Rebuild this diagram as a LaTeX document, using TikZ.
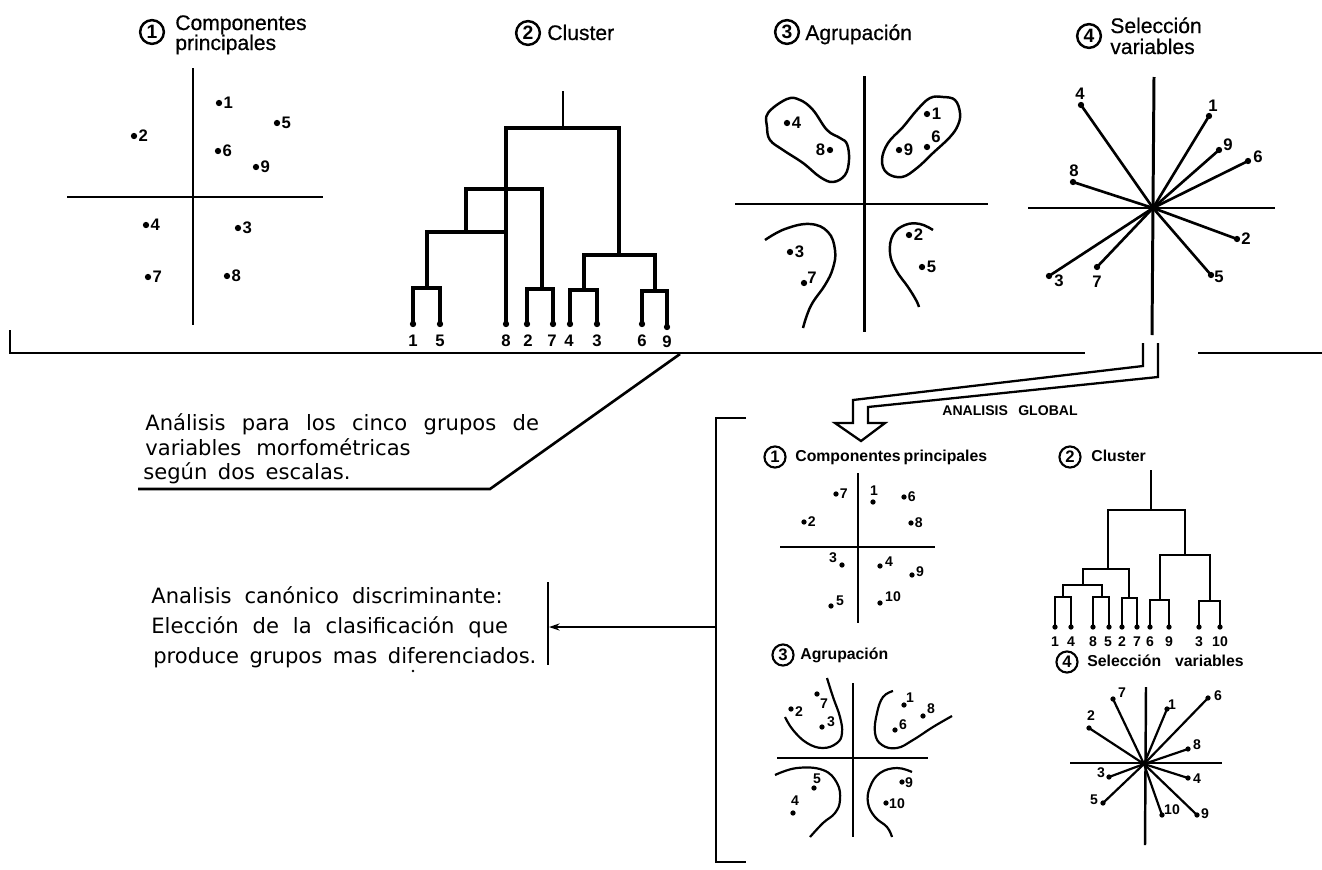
\documentclass[tikz,border=0pt]{standalone}
\usepackage{fontspec}
\setmainfont{Liberation Sans}
\newfontfamily\lett[FakeBold=0.6]{Liberation Sans}
\newfontfamily\lettw{DejaVu Sans}
\usetikzlibrary{arrows.meta}
\newcommand\pdot[2]{\fill (#1,#2) circle[radius=1.8pt];}
\newcommand\sdot[2]{\fill (#1,#2) circle[radius=1.5pt];}
\begin{document}
\begin{tikzpicture}[x=0.02cm,y=-0.02cm,
  ax/.style={line width=1.7pt},
  bax/.style={line width=1.4pt},
  dend/.style={line width=1.9pt},
  bdend/.style={line width=1.6pt},
  outl/.style={line width=1.4pt},
  boutl/.style={line width=1.25pt},
  ray/.style={line width=1.5pt},
  bray/.style={line width=1.25pt},
  mline/.style={line width=1.5pt},
  lab/.style={font=\fontsize{9.5}{9.5}\selectfont\bfseries, inner sep=0pt},
  slab/.style={font=\fontsize{8}{8}\selectfont\bfseries, inner sep=0pt},
  ttl/.style={font=\fontsize{12}{12}\selectfont\lett, inner sep=0pt, anchor=base west},
  bttl/.style={font=\fontsize{9}{9}\selectfont\bfseries, inner sep=0pt, anchor=base west},
  num/.style={circle, draw, line width=1.4pt, minimum size=13.5pt, inner sep=0pt, font=\fontsize{11}{11}\selectfont\bfseries},
  bnum/.style={circle, draw, line width=1.2pt, minimum size=12pt, inner sep=0pt, font=\fontsize{9.5}{9.5}\selectfont\bfseries},
  txt/.style={font=\fontsize{12}{12}\selectfont\lettw, inner sep=0pt, anchor=base west}
]
\useasboundingbox (0,0) rectangle (1322,869);

%% ---------------- Panel 1: Componentes principales
\node[num] (n1) at (152,32) {1};
\node[ttl] (t1a) at (175,30) {Componentes};
\node[ttl] (t1b) at (175,50) {principales};
\draw[ax] (193,68)--(193,325);
\draw[ax] (67,197)--(323,197);
\pdot{219}{103}\node[lab,right=2.5pt] (a1) at (219,103) {1};
\pdot{277}{123}\node[lab,right=2.5pt] (a5) at (277,123) {5};
\pdot{134}{136}\node[lab,right=2.5pt] (a2) at (134,136) {2};
\pdot{218}{151}\node[lab,right=2.5pt] (a6) at (218,151) {6};
\pdot{256}{167}\node[lab,right=2.5pt] (a9) at (256,167) {9};
\pdot{146}{225}\node[lab,right=2.5pt] (a4) at (146,225) {4};
\pdot{238}{228}\node[lab,right=2.5pt] (a3) at (238,228) {3};
\pdot{148}{277}\node[lab,right=2.5pt] (a7) at (148,277) {7};
\pdot{227}{276}\node[lab,right=2.5pt] (a8) at (227,276) {8};

%% ---------------- Panel 2: Cluster
\node[num] (n2) at (528,33) {2};
\node[ttl] (t2) at (547,40) {Cluster};
\draw[line width=1.1pt] (563,128)--(563,91);
\draw[dend] (413,324)--(413,288)--(440,288)--(440,324);
\draw[dend] (427,288)--(427,232)--(506,232);
\draw[dend] (506,324)--(506,128)--(619,128)--(619,255);
\draw[dend] (466,232)--(466,189)--(542,189)--(542,289);
\draw[dend] (527,324)--(527,289)--(553,289)--(553,324);
\draw[dend] (584,290)--(584,255)--(655,255)--(655,291);
\draw[dend] (570,324)--(570,290)--(597,290)--(597,324);
\draw[dend] (642,324)--(642,291)--(667,291)--(667,327);
\foreach \x in {413,440,506,527,553,570,597,642} {\pdot{\x}{324}}
\pdot{667}{327}
\node[lab] (c1) at (413,341) {1};
\node[lab] (c5) at (440,341) {5};
\node[lab] (c8) at (506,341) {8};
\node[lab] (c2) at (528,341) {2};
\node[lab] (c7) at (552,341) {7};
\node[lab] (c4) at (569,341) {4};
\node[lab] (c3) at (597,341) {3};
\node[lab] (c6) at (642,341) {6};
\node[lab] (c9) at (667,342) {9};

%% ---------------- Panel 3: Agrupacion
\node[num] (n3) at (787,32) {3};
\node[ttl] (t3) at (805,40) {Agrupación};
\draw[ax] (864,76)--(864,332);
\draw[ax] (735,204)--(988,204);
\draw[outl] plot[smooth cycle, tension=0.65] coordinates {(768,113) (787,99) (800,100) (813,110) (827,130) (840,138) (847,144) (849,160) (845,175) (833,182) (820,177) (803,163) (783,150) (770,140) (767,127)};
\draw[outl] plot[smooth cycle, tension=0.65] coordinates {(960,113) (955,100) (943,97) (930,98) (917,110) (903,127) (888,143) (882,160) (887,173) (902,177) (917,168) (933,153) (950,137) (958,125)};
\draw[outl] plot[smooth, tension=0.7] coordinates {(765,240) (785,229) (810,224) (828,232) (835,250) (833,268) (825,285) (813,302) (807,315) (803,328)};
\draw[outl] plot[smooth, tension=0.7] coordinates {(933,230) (920,224) (905,225) (893,235) (890,253) (896,270) (908,287) (916,300) (919,307)};
\pdot{787}{123}\node[lab,right=2.5pt] (g4) at (787,123) {4};
\pdot{830}{150}\node[lab,left=2.5pt] (g8) at (830,150) {8};
\pdot{927}{114}\node[lab,right=2.5pt] (g1) at (927,114) {1};
\pdot{927}{147}\node[lab] (g6) at (936,137) {6};
\pdot{899}{150}\node[lab,right=2.5pt] (g9) at (899,150) {9};
\pdot{790}{252}\node[lab,right=2.5pt] (g3) at (790,252) {3};
\pdot{804}{283}\node[lab] (g7) at (812,278) {7};
\pdot{909}{235}\node[lab,right=2.5pt] (g2) at (909,235) {2};
\pdot{922}{267}\node[lab,right=2.5pt] (g5) at (922,267) {5};

%% ---------------- Panel 4: Seleccion variables
\node[num] (n4) at (1089,36) {4};
\node[ttl] (t4a) at (1110,33) {Selección};
\node[ttl] (t4b) at (1110,54) {variables};
\draw[ax] (1154,77)--(1152,335);
\draw[ax] (1028,208)--(1275,208);
\coordinate (sc) at (1153,208);
\foreach \px/\py in {1081/105,1209/116,1219/150,1248/161,1073/182,1237/239,1211/275,1049/276,1097/267}
  {\draw[ray] (sc)--(\px,\py); \pdot{\px}{\py}}
\node[lab] (s4) at (1080,94) {4};
\node[lab] (s1) at (1213,106) {1};
\node[lab] (s9) at (1228,145) {9};
\node[lab] (s6) at (1258,157) {6};
\node[lab] (s8) at (1074,171) {8};
\node[lab] (s2) at (1246,239) {2};
\node[lab] (s5) at (1219,277) {5};
\node[lab] (s3) at (1059,281) {3};
\node[lab] (s7) at (1097,282) {7};

%% ---------------- connecting lines
\draw[mline] (10,330)--(10,353)--(1085,353);
\draw[mline] (1198,353)--(1322,353);
\draw[mline] (680,354)--(490,489)--(138,489);
\draw[line width=1.3pt, line join=miter] (1143,343)--(1143,366)--(853,400)--(853,423)--(835,423)--(861,441)--(885,423)--(868,423)--(868,407)--(1158,377)--(1158,343);

\node[txt] (l1) at (145,430) {\makebox[224pt][s]{Análisis para los cinco grupos de}};
\node[txt] (l2) at (145,455) {\makebox[151pt][s]{variables morfométricas}};
\node[txt] (l3) at (143,479) {\makebox[118pt][s]{según dos escalas.}};

\node[txt] (m1) at (151,603) {\makebox[200pt][s]{Analisis canónico discriminante:}};
\node[txt] (m2) at (151,633) {\makebox[203pt][s]{Elección de la clasificación que}};
\node[txt] (m3) at (153,663) {\makebox[218pt][s]{produce grupos mas diferenciados.}};
\fill (413,671) circle[radius=0.8pt];
\coordinate (bartop) at (548,582);
\coordinate (barbot) at (548,665);
\coordinate (barmid) at (549,627);
\coordinate (brkmid) at (716,627);
\draw[mline] (bartop)--(barbot);
\draw[mline,-{Stealth[length=6pt,width=4pt]}] (brkmid)--(barmid);
\draw[mline] (746,418)--(716,418)--(716,862)--(746,862);

\node[font=\fontsize{8}{8}\selectfont\bfseries, inner sep=0pt, anchor=base west] (glob) at (942,415) {\makebox[77pt][s]{ANALISIS GLOBAL}};

%% ---------------- Bottom panel 1
\node[bnum] (b1) at (775,457) {1};
\node[bttl] (bt1) at (795,461) {\makebox[104pt][s]{Componentes principales}};
\draw[bax] (858,473)--(858,623);
\draw[bax] (780,547)--(935,547);
\sdot{836}{494}\node[slab,right=2pt] (e7) at (836,494) {7};
\sdot{873}{502}\node[slab] (e1) at (874,491) {1};
\sdot{904}{497}\node[slab,right=2pt] (e6) at (904,497) {6};
\sdot{804}{522}\node[slab,right=2pt] (e2) at (804,522) {2};
\sdot{911}{523}\node[slab,right=2pt] (e8) at (911,523) {8};
\sdot{842}{565}\node[slab] (e3) at (833,558) {3};
\sdot{880}{566}\node[slab] (e4) at (889,562) {4};
\sdot{912}{575}\node[slab] (e9) at (920,572) {9};
\sdot{831}{606}\node[slab] (e5) at (840,601) {5};
\sdot{880}{603}\node[slab] (e10) at (893,597) {10};

%% ---------------- Bottom panel 2
\node[bnum] (b2) at (1070,457) {2};
\node[bttl] (bt2) at (1091,461) {Cluster};
\draw[line width=1pt] (1151,470)--(1151,510);
\draw[bdend] (1108,569)--(1108,510)--(1185,510)--(1185,555);
\draw[bdend] (1083,585)--(1083,569)--(1129,569)--(1129,598);
\draw[bdend] (1063,597)--(1063,585)--(1102,585)--(1102,597);
\draw[bdend] (1055,627)--(1055,597)--(1071,597)--(1071,627);
\draw[bdend] (1093,627)--(1093,597)--(1109,597)--(1109,627);
\draw[bdend] (1122,627)--(1122,598)--(1137,598)--(1137,627);
\draw[bdend] (1160,600)--(1160,555)--(1210,555)--(1210,601);
\draw[bdend] (1150,627)--(1150,600)--(1169,600)--(1169,627);
\draw[bdend] (1199,628)--(1199,601)--(1220,601)--(1220,628);
\foreach \x in {1055,1071,1093,1109,1122,1137,1150,1169,1199,1220} {\sdot{\x}{627}}
\node[slab] (d1) at (1055,642) {1};
\node[slab] (d4) at (1071,642) {4};
\node[slab] (d8) at (1093,642) {8};
\node[slab] (d5) at (1108,642) {5};
\node[slab] (d2) at (1122,642) {2};
\node[slab] (d7) at (1137,642) {7};
\node[slab] (d6) at (1150,642) {6};
\node[slab] (d9) at (1169,642) {9};
\node[slab] (d3) at (1199,642) {3};
\node[slab] (d10) at (1220,642) {10};

%% ---------------- Bottom panel 3
\node[bnum] (b3) at (783,655) {3};
\node[bttl] (bt3) at (800,659) {Agrupación};
\draw[bax] (853,683)--(853,837);
\draw[bax] (777,758)--(928,758);
\draw[boutl] plot[smooth, tension=0.7] coordinates {(827,678) (833,697) (840,717) (842,733) (837,743) (823,748) (807,743) (793,730) (785,717)};
\draw[boutl] plot[smooth, tension=0.7] coordinates {(893,691) (883,697) (877,713) (875,733) (882,745) (897,748) (913,740) (933,727) (952,716)};
\draw[boutl] plot[smooth, tension=0.7] coordinates {(775,775) (797,768) (823,770) (837,783) (840,800) (835,813) (823,823) (810,837)};
\draw[boutl] plot[smooth, tension=0.7] coordinates {(912,772) (897,768) (880,773) (870,787) (868,803) (875,817) (887,827) (892,837)};
\sdot{817}{694}\node[slab] (h7) at (824,704) {7};
\sdot{791}{709}\node[slab] (h2) at (799,712) {2};
\sdot{822}{727}\node[slab] (h3) at (831,722) {3};
\sdot{904}{705}\node[slab] (h1) at (910,698) {1};
\sdot{923}{716}\node[slab] (h8) at (931,709) {8};
\sdot{895}{730}\node[slab] (h6) at (903,725) {6};
\sdot{814}{788}\node[slab] (h5) at (817,779) {5};
\sdot{793}{813}\node[slab] (h4) at (795,801) {4};
\sdot{902}{782}\node[slab] (h9) at (909,783) {9};
\sdot{886}{803}\node[slab] (h10) at (897,804) {10};

%% ---------------- Bottom panel 4
\node[bnum] (b4) at (1067,662) {4};
\node[bttl] (bt4) at (1087,666) {\makebox[89pt][s]{Selección variables}};
\draw[bax] (1146,687)--(1145,845);
\draw[bax] (1070,763)--(1222,763);
\coordinate (bc) at (1144,764);
\foreach \px/\py in {1113/699,1089/728,1167/709,1208/698,1188/749,1109/777,1188/778,1103/803,1162/815,1197/815}
  {\draw[bray] (bc)--(\px,\py); \sdot{\px}{\py}}
\node[slab] (v7) at (1122,693) {7};
\node[slab] (v2) at (1091,716) {2};
\node[slab] (v1) at (1172,705) {1};
\node[slab] (v6) at (1218,696) {6};
\node[slab] (v8) at (1197,745) {8};
\node[slab] (v3) at (1101,773) {3};
\node[slab] (v4) at (1197,779) {4};
\node[slab] (v5) at (1094,800) {5};
\node[slab] (v10) at (1172,810) {10};
\node[slab] (v9) at (1205,814) {9};
\end{tikzpicture}
\end{document}
